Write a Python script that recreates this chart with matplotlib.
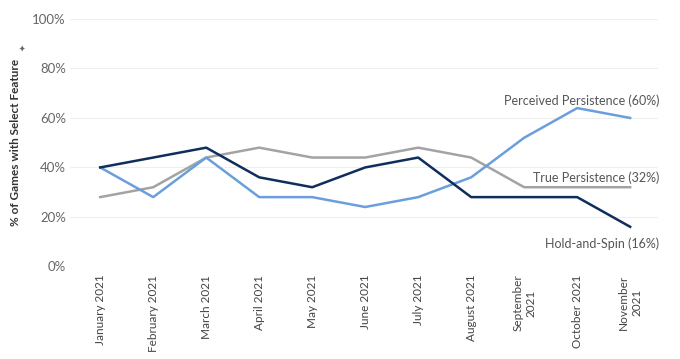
import numpy as np
import matplotlib.pyplot as plt

plt.rcParams['font.family'] = ['Lato', 'DejaVu Sans']

months = ['January 2021', 'February 2021', 'March 2021', 'April 2021', 'May 2021',
          'June 2021', 'July 2021', 'August 2021', 'September\n2021', 'October 2021',
          'November\n2021']
hold_spin = [40, 44, 48, 36, 32, 40, 44, 28, 28, 28, 16]
perceived = [40, 28, 44, 28, 28, 24, 28, 36, 52, 64, 60]
true_pers = [28, 32, 44, 48, 44, 44, 48, 44, 32, 32, 32]

c_dark = '#0e2e5c'
c_light = '#6a9fdc'
c_gray = '#a3a3a3'

fig = plt.figure(figsize=(6.8, 3.59), dpi=100)
ax = fig.add_axes([0.103, 0.258, 0.865, 0.689])

x = np.arange(len(months))
ax.plot(x, true_pers, color=c_gray, lw=1.8)
ax.plot(x, perceived, color=c_light, lw=1.8)
ax.plot(x, hold_spin, color=c_dark, lw=1.8)

ax.set_xlim(-0.57, 10.53)
ax.set_ylim(0, 100)
ax.set_yticks(range(0, 101, 20))
ax.set_yticklabels([f'{v}%' for v in range(0, 101, 20)])
ax.grid(axis='y', color='#efefef', lw=0.8)
ax.set_axisbelow(True)
for s in ax.spines.values():
    s.set_visible(False)
ax.tick_params(axis='y', length=0, labelsize=9.5, labelcolor='#666666', pad=3)
ax.set_xticks(x)
ax.set_xticklabels(months, rotation=90, va='top', ha='center')
ax.tick_params(axis='x', length=0, labelsize=8.5, labelcolor='#444444', pad=6)

ax.set_ylabel('% of Games with Select Feature', fontsize=8.5, color='#333333',
              fontweight='bold', labelpad=8)
fig.text(0.034, 0.869, '\u2726', fontsize=6, color='#666666', rotation=90,
         ha='center', va='center')

lbl = dict(ha='right', va='center', fontsize=9, color='#555555')
ax.text(10.55, perceived[-1] + 7, f'Perceived Persistence ({perceived[-1]}%)', **lbl)
ax.text(10.55, true_pers[-1] + 4, f'True Persistence ({true_pers[-1]}%)', **lbl)
ax.text(10.55, hold_spin[-1] - 7, f'Hold-and-Spin ({hold_spin[-1]}%)', **lbl)

fig.savefig('out.png', dpi=100)
